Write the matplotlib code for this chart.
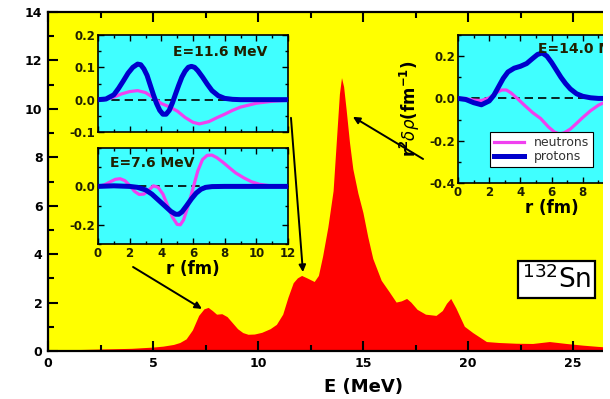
import matplotlib
matplotlib.use("Agg")
import matplotlib.pyplot as plt
from matplotlib.patches import Rectangle
from matplotlib.ticker import MultipleLocator

# Strength function (red area)
E_MEV = [0.0, 1.0, 2.0, 3.0, 4.0, 5.0, 5.5, 6.0, 6.3, 6.6,
         6.9, 7.2, 7.45, 7.65, 7.85, 8.05, 8.3, 8.55, 8.8, 9.05,
         9.3, 9.55, 9.85, 10.2, 10.6, 10.9, 11.2, 11.45, 11.7, 11.9,
         12.1, 12.35, 12.7, 12.9, 13.1, 13.35, 13.6, 13.75, 13.9, 14.0,
         14.1, 14.22, 14.38, 14.54, 14.78, 15.02, 15.25, 15.49, 15.89, 16.29,
         16.6, 16.85, 17.1, 17.3, 17.6, 18.0, 18.5, 18.8, 19.0, 19.2,
         19.45, 19.85, 20.25, 20.9, 21.5, 22.3, 23.1, 23.9, 24.7, 25.5,
         26.2, 27.0, 28.0, 30.0]
STRENGTH = [0.02, 0.03, 0.05, 0.07, 0.09, 0.14, 0.18, 0.25, 0.33, 0.48,
            0.85, 1.45, 1.72, 1.78, 1.65, 1.5, 1.52, 1.4, 1.15, 0.9,
            0.74, 0.67, 0.68, 0.75, 0.9, 1.08, 1.5, 2.2, 2.8, 3.0,
            3.1, 3.0, 2.85, 3.1, 3.9, 5.1, 6.6, 8.6, 10.6, 11.27,
            10.9, 9.96, 8.6, 7.5, 6.5, 5.7, 4.7, 3.8, 2.9, 2.4,
            2.0, 2.05, 2.15, 2.0, 1.7, 1.5, 1.45, 1.65, 1.95, 2.15,
            1.75, 1.0, 0.74, 0.37, 0.33, 0.3, 0.29, 0.37, 0.29, 0.22,
            0.17, 0.12, 0.08, 0.04]

# Transition densities, E = 11.6 MeV
R_116_N = [0, 0.5, 1, 1.5, 2, 2.5, 3, 3.5, 4, 4.5, 5, 5.5, 6, 6.4, 7, 7.5, 8, 8.5, 9, 10, 11, 12]
NEUT_116 = [0, 0.001, 0.008, 0.018, 0.025, 0.028, 0.022, 0.006, -0.012, -0.022, -0.035,
            -0.055, -0.07, -0.075, -0.068, -0.056, -0.045, -0.033, -0.023, -0.011, -0.005, -0.002]
R_116_P = [0, 0.5, 1.0, 1.3, 1.6, 1.9, 2.2, 2.5, 2.7, 2.9, 3.1, 3.3, 3.5, 3.7, 3.9, 4.1, 4.3,
           4.5, 4.7, 4.9, 5.1, 5.3, 5.5, 5.7, 5.9, 6.1, 6.3, 6.6, 6.9, 7.2, 7.6, 8.0, 8.5, 9, 12]
PROT_116 = [0, 0.002, 0.015, 0.035, 0.058, 0.082, 0.1, 0.11, 0.108, 0.095, 0.075, 0.045,
            0.015, -0.012, -0.033, -0.045, -0.045, -0.033, -0.01, 0.018, 0.045, 0.07, 0.088,
            0.1, 0.103, 0.1, 0.09, 0.07, 0.048, 0.028, 0.012, 0.004, 0.001, 0, 0]

# E = 7.6 MeV
R_76_N = [0, 0.4, 0.8, 1.1, 1.4, 1.7, 2.0, 2.3, 2.6, 2.9, 3.2, 3.5, 3.8, 4.1, 4.4, 4.7, 5.0,
          5.2, 5.4, 5.7, 6.0, 6.3, 6.6, 6.9, 7.2, 7.5, 7.9, 8.3, 8.7, 9.2, 9.7, 10.2, 10.8,
          11.4, 12]
NEUT_76 = [0, 0.008, 0.025, 0.037, 0.04, 0.03, 0.005, -0.025, -0.042, -0.04, -0.02, 0.003,
           -0.005, -0.04, -0.1, -0.16, -0.198, -0.2, -0.175, -0.1, -0.01, 0.08, 0.14, 0.162,
           0.163, 0.15, 0.125, 0.097, 0.07, 0.045, 0.024, 0.011, 0.004, 0.001, 0]
R_76_P = [0, 1, 2, 2.5, 3, 3.4, 3.8, 4.2, 4.6, 4.9, 5.1, 5.3, 5.6, 5.9, 6.2, 6.5, 6.8, 7.2, 8, 12]
PROT_76 = [0, 0.003, 0, -0.005, -0.018, -0.04, -0.07, -0.1, -0.13, -0.145, -0.145, -0.133,
           -0.1, -0.065, -0.035, -0.015, -0.005, -0.001, 0, 0]

# E = 14.0 MeV
R_140_N = [0, 0.5, 1, 1.5, 2, 2.4, 2.8, 3.1, 3.4, 3.8, 4.3, 4.8, 5.3, 5.8, 6.2, 6.5, 6.8,
           7.2, 7.6, 8.0, 8.5, 9, 9.5, 10, 11, 12]
NEUT_140 = [0, 0, -0.008, -0.01, 0.003, 0.025, 0.04, 0.04, 0.026, 0.0, -0.035, -0.068,
            -0.095, -0.135, -0.16, -0.168, -0.163, -0.145, -0.118, -0.09, -0.058, -0.032,
            -0.015, -0.006, 0, 0]
R_140_P = [0, 0.5, 1, 1.5, 2, 2.3, 2.6, 2.9, 3.2, 3.6, 4.0, 4.4, 4.8, 5.1, 5.4, 5.7, 6.0,
           6.3, 6.6, 6.9, 7.2, 7.6, 8, 8.5, 9, 12]
PROT_140 = [0, -0.005, -0.02, -0.03, -0.012, 0.015, 0.055, 0.095, 0.125, 0.143, 0.152,
            0.165, 0.19, 0.208, 0.215, 0.2, 0.17, 0.135, 0.1, 0.07, 0.045, 0.022, 0.01,
            0.003, 0, 0]

YELLOW = "#FFFF00"
CYAN = "#40FFFF"
MAGENTA = "#F040F0"
BLUE = "#0000CC"
TICK_COLOR = "#202000"

W, H = 610, 399


def px_rect(left, top, right, bottom):
    return [left / W, 1 - bottom / H, (right - left) / W, (bottom - top) / H]


def draw_inset(fig, rect, r_n, neut, r_p, prot, ylim, ymajor, yminor):
    ax = fig.add_axes(rect)
    ax.set_facecolor(CYAN)
    ax.axhline(0, color="black", lw=1.2, ls=(0, (5, 3)), zorder=1)
    ax.plot(r_n, neut, color=MAGENTA, lw=2.3, label="neutrons", zorder=2,
            solid_joinstyle="round")
    ax.plot(r_p, prot, color=BLUE, lw=3.6, label="protons", zorder=3,
            solid_joinstyle="round")
    ax.set_xlim(0, 12)
    ax.set_ylim(*ylim)
    ax.xaxis.set_major_locator(MultipleLocator(2))
    ax.xaxis.set_minor_locator(MultipleLocator(1))
    ax.yaxis.set_major_locator(MultipleLocator(ymajor))
    ax.yaxis.set_minor_locator(MultipleLocator(yminor))
    ax.yaxis.set_major_formatter(plt.FormatStrFormatter("%.1f"))
    ax.tick_params(which="both", direction="in", top=True, right=True,
                   width=1.0, colors="black", labelcolor=TICK_COLOR,
                   labelsize=8.5, pad=2)
    ax.tick_params(which="major", length=4)
    ax.tick_params(which="minor", length=2)
    for s in ax.spines.values():
        s.set_linewidth(1.2)
    return ax


def bold_ticks(ax):
    for l in ax.get_xticklabels() + ax.get_yticklabels():
        l.set_fontweight("bold")


fig = plt.figure(figsize=(W / 100, H / 100), dpi=100)

# main panel
ax = fig.add_axes(px_rect(48, 12, 48 + 30 * 21, 351))
ax.set_facecolor(YELLOW)
ax.fill_between(E_MEV, STRENGTH, color="#FF0000", lw=0)
ax.set_xlim(0, 30)
ax.set_ylim(0, 14)
ax.xaxis.set_major_locator(MultipleLocator(5))
ax.xaxis.set_minor_locator(MultipleLocator(2.5))
ax.yaxis.set_major_locator(MultipleLocator(2))
ax.yaxis.set_minor_locator(MultipleLocator(1))
ax.tick_params(which="both", direction="in", top=True, right=False, width=1.5,
               labelsize=9, pad=4)
ax.tick_params(which="major", length=7)
ax.tick_params(which="minor", length=4)
bold_ticks(ax)
for s in ax.spines.values():
    s.set_linewidth(1.6)
ax.set_xlabel("E (MeV)", fontsize=13, fontweight="bold", labelpad=6)

ax.text(22.57, 2.36, r"$^{\mathregular{132}}$Sn", fontsize=19, ha="left", va="bottom",
        bbox=dict(boxstyle="square,pad=0.15", fc="white", ec="black", lw=1.6))

arrow = dict(arrowstyle="-|>", color="black", lw=1.4, mutation_scale=10,
             shrinkA=0, shrinkB=0)
ax.annotate("", xy=(7.33, 1.74), xytext=(4.05, 3.47), arrowprops=arrow)
ax.annotate("", xy=(12.14, 3.26), xytext=(11.57, 9.63), arrowprops=arrow)
ax.annotate("", xy=(14.52, 9.67), xytext=(17.86, 7.93), arrowprops=arrow)

# inset E = 11.6 MeV
ax1 = draw_inset(fig, px_rect(98, 35, 288, 132), R_116_N, NEUT_116, R_116_P, PROT_116,
                 (-0.1, 0.2), 0.1, 0.05)
ax1.set_xticklabels([])
bold_ticks(ax1)
ax1.text(4.74, 0.134, "E=11.6 MeV", fontsize=10, fontweight="bold", color=TICK_COLOR)

# inset E = 7.6 MeV
ax2 = draw_inset(fig, px_rect(98, 148, 288, 244), R_76_N, NEUT_76, R_76_P, PROT_76,
                 (-0.3, 0.2), 0.2, 0.1)
ax2.set_yticks([-0.2, 0.0])
bold_ticks(ax2)
ax2.set_xlabel("r (fm)", fontsize=12, fontweight="bold", labelpad=0)
ax2.text(0.76, 0.1, "E=7.6 MeV", fontsize=10, fontweight="bold", color=TICK_COLOR)

# inset E = 14.0 MeV
ax3 = draw_inset(fig, px_rect(458, 35, 458 + 12 * 15.6, 183), R_140_N, NEUT_140, R_140_P,
                 PROT_140, (-0.4, 0.3), 0.2, 0.1)
bold_ticks(ax3)
ax3.set_xlabel("r (fm)", fontsize=12, fontweight="bold", labelpad=0)
ax3.set_ylabel(r"r$^{\mathbf{2}}\delta\rho$(fm$^{\mathbf{-1}}$)", fontsize=12,
               fontweight="bold")
ax3.yaxis.set_label_coords(-0.19, 0.5)
ax3.text(5.13, 0.214, "E=14.0 MeV", fontsize=10, fontweight="bold", color=TICK_COLOR)
leg = ax3.legend(loc="lower left", bbox_to_anchor=(0.171, 0.108), borderaxespad=0,
                 fontsize=9, handlelength=2.4, fancybox=False, framealpha=1,
                 edgecolor="black", borderpad=0.3, labelspacing=0.1)
leg.get_frame().set_linewidth(0.8)
for t in leg.get_texts():
    t.set_color("#333333")

# the source picture is cut off on the right
fig.add_artist(Rectangle((603 / W, 0), 1, 1, transform=fig.transFigure,
                         facecolor="white", edgecolor="none", zorder=100))

plt.savefig("out.png", dpi=100)
plt.close()
